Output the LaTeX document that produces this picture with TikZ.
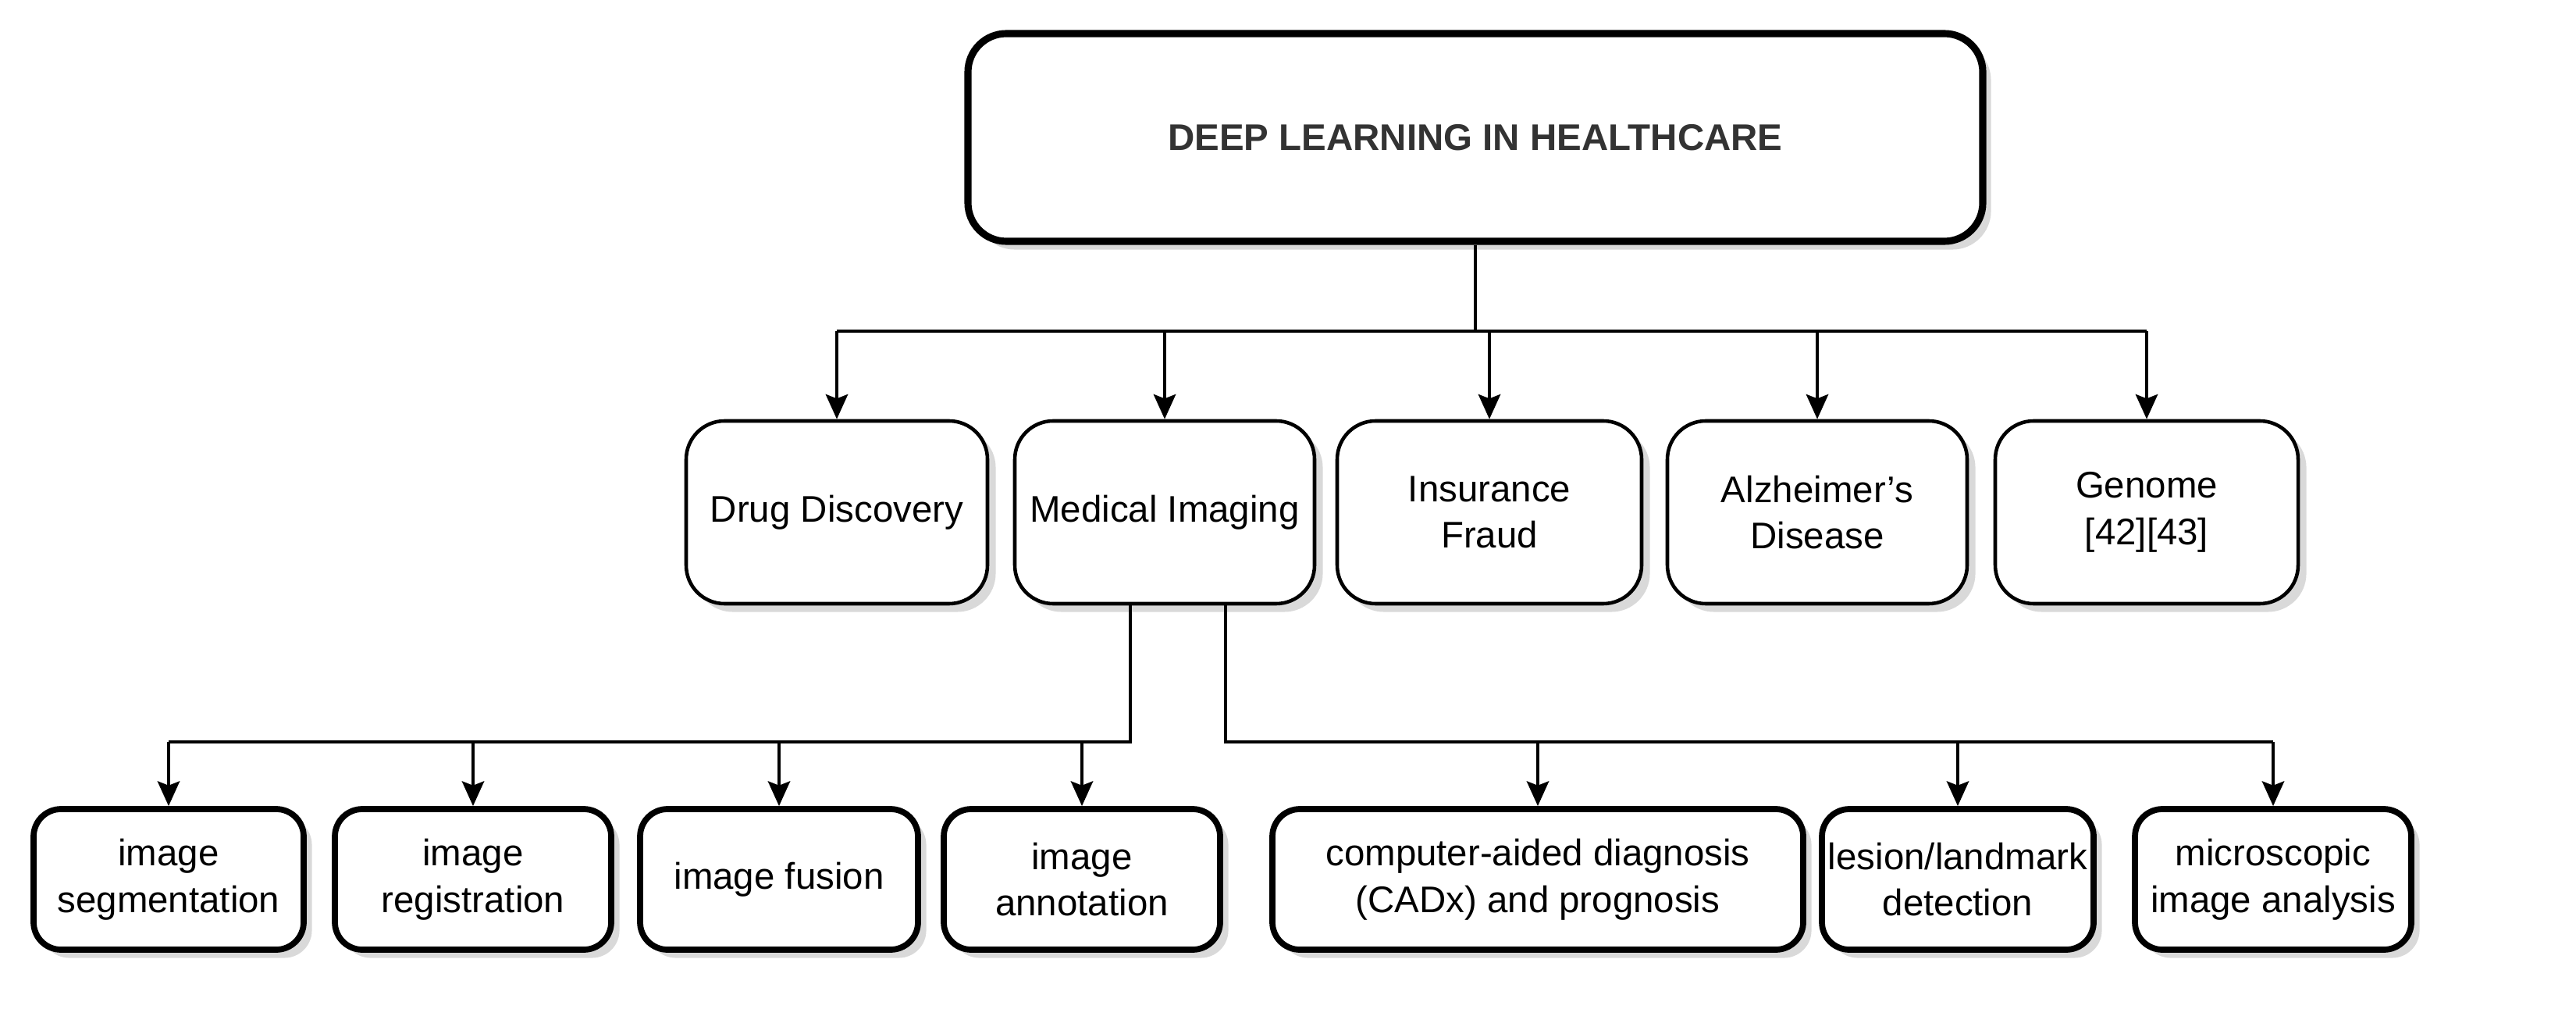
\documentclass[tikz,border=0pt]{standalone}
\usepackage{fontspec}
\setmainfont{Liberation Sans}
\usetikzlibrary{shadows,arrows.meta}
\begin{document}
\begin{tikzpicture}[x=0.02cm,y=-0.02cm,
    box/.style={draw, fill=white, rounded corners=14pt, line width=1.3pt, align=center,
      drop shadow={shadow xshift=3pt, shadow yshift=-3pt, fill=black!25, opacity=0.6},
      font=\fontsize{13.5}{17}\selectfont, inner sep=0pt},
    leaf/.style={box, line width=2.2pt, rounded corners=10pt},
    link/.style={line width=1.4pt},
    arr/.style={link, -{Stealth[length=9pt,width=8pt,inset=1.5pt]}}]
\useasboundingbox (0,0) rectangle (1650,662);
% top
\node[box, line width=2.6pt, minimum width=650*0.02cm, minimum height=133*0.02cm,
  font=\bfseries\fontsize{13.5}{17}\selectfont, text=black!80] (top) at (945,88) {DEEP LEARNING IN HEALTHCARE};
% second row
\foreach \name/\x/\w/\txt in {drug/536/193/Drug Discovery, med/746/192/Medical Imaging,
    fraud/954/195/{Insurance\\Fraud}, alz/1164/192/{Alzheimer's\\Disease}, genome/1375/194/{Genome\\{[42][43]}}}
  \node[box, minimum width=\w*0.02cm, minimum height=117*0.02cm] (\name) at (\x,328) {\txt};
% third row
\foreach \name/\x/\w/\txt in {seg/108/173/{image\\segmentation}, reg/303/177/{image\\registration},
    fus/499/178/image fusion, ann/693/177/{image\\annotation},
    cadx/985/340/{computer-aided diagnosis\\(CADx) and prognosis},
    lesion/1254/174/{lesion/landmark\\detection}, micro/1456/177/{microscopic\\image analysis}}
  \node[leaf, minimum width=\w*0.02cm, minimum height=90*0.02cm] (\name) at (\x,563) {\txt};

\coordinate (hub) at (945,212);
\draw[link] (top.south) -- (hub);
\draw[link] (drug.north |- hub) -- (genome.north |- hub);
\foreach \n in {drug,med,fraud,alz,genome}
  \draw[arr] (\n.north |- hub) -- (\n.north);

\coordinate (la) at (724,475);
\coordinate (lb) at (785,475);
\draw[link] (la |- med.south) -- (la) -- (seg.north |- la);
\draw[link] (lb |- med.south) -- (lb) -- (micro.north |- lb);
\foreach \n in {seg,reg,fus,ann,cadx,lesion,micro}
  \draw[arr] (\n.north |- la) -- (\n.north);
\end{tikzpicture}
\end{document}
